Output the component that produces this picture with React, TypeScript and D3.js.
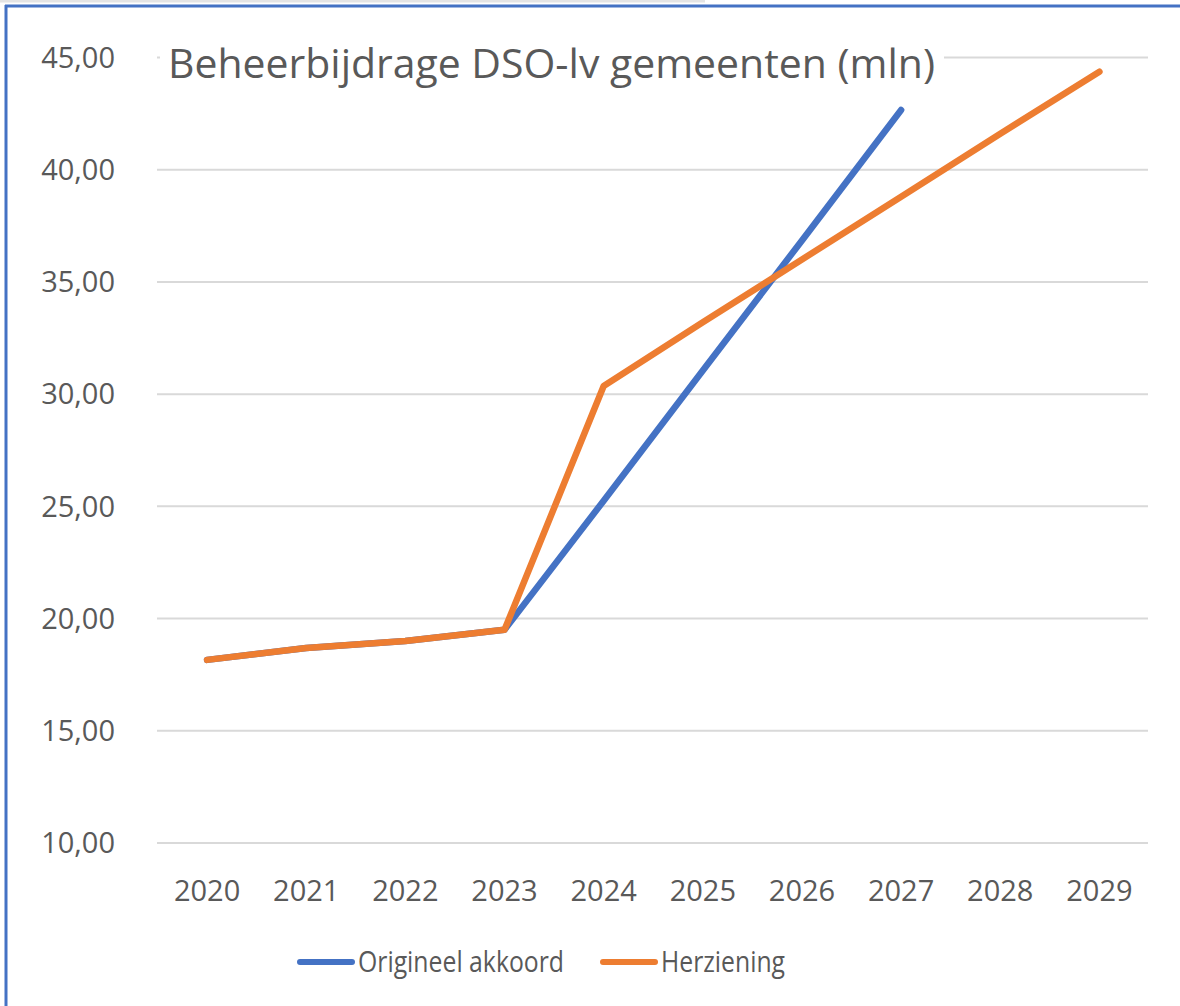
import React, {useEffect, useRef} from "react";
import * as d3 from "d3";

const years = ["2020", "2021", "2022", "2023", "2024", "2025", "2026", "2027", "2028", "2029"];
const origineel = [18.16, 18.69, 19.0, 19.5, 25.25, 31.05, 36.85, 42.66];
const herziening = [18.16, 18.69, 19.0, 19.5, 30.36, 33.2, 36.0, 38.8, 41.6, 44.37];
const yTicks = [10, 15, 20, 25, 30, 35, 40, 45];
const title = "Beheerbijdrage DSO-lv gemeenten (mln)";
const seriesNames = ["Origineel akkoord", "Herziening"];

const BLUE = "#4472C4";
const ORANGE = "#ED7D31";
const TEXT = "#595959";
const FONT = "'Open Sans', sans-serif";

export default function App() {
    const ref = useRef<SVGSVGElement>(null);

    useEffect(() => {
        const chartSize = {width: 1180, height: 1006};
        const svg = d3.select(ref.current);
        svg.selectAll("*").remove();

        svg.append("rect").attr("width", chartSize.width).attr("height", chartSize.height).attr("fill", "#fff");

        // frame bits visible in the screenshot
        svg.append("rect").attr("x", 0).attr("y", 0).attr("width", 705).attr("height", 2.5).attr("fill", "#e4e4e4");
        svg.append("line").attr("x1", 5).attr("x2", chartSize.width).attr("y1", 6).attr("y2", 6)
            .attr("stroke", BLUE).attr("stroke-width", 3);
        svg.append("line").attr("x1", 6).attr("x2", 6).attr("y1", 5).attr("y2", chartSize.height)
            .attr("stroke", BLUE).attr("stroke-width", 3);

        const x = d3.scaleBand().domain(years).range([157.5, 1149]);
        const y = d3.scaleLinear().domain([10, 45]).range([843, 57.5]);
        const cx = (i: number) => (x(years[i]) as number) + x.bandwidth() / 2;

        const g = svg.append("g");

        g.selectAll(".grid").data(yTicks).enter().append("line")
            .attr("class", "grid")
            .attr("x1", 157).attr("x2", 1148)
            .attr("y1", d => y(d)).attr("y2", d => y(d))
            .attr("stroke", "#d9d9d9").attr("stroke-width", 2);

        g.selectAll(".ylab").data(yTicks).enter().append("text")
            .attr("class", "ylab")
            .attr("x", 115).attr("y", d => y(d))
            .attr("dy", "0.35em")
            .attr("text-anchor", "end")
            .attr("font-family", FONT).attr("font-size", 29).attr("fill", TEXT)
            .text(d => d3.format(".2f")(d).replace(".", ","));

        g.selectAll(".xlab").data(years).enter().append("text")
            .attr("class", "xlab")
            .attr("x", (d, i) => cx(i)).attr("y", 901)
            .attr("text-anchor", "middle")
            .attr("font-family", FONT).attr("font-size", 29).attr("fill", TEXT)
            .text(d => d);

        const line = d3.line<number>().x((d, i) => cx(i)).y(d => y(d));

        g.append("path").datum(origineel).attr("d", line)
            .attr("fill", "none").attr("stroke", BLUE).attr("stroke-width", 6.5)
            .attr("stroke-linecap", "round").attr("stroke-linejoin", "round");
        g.append("path").datum(herziening).attr("d", line)
            .attr("fill", "none").attr("stroke", ORANGE).attr("stroke-width", 6.5)
            .attr("stroke-linecap", "round").attr("stroke-linejoin", "round");

        // title sits on a white box that hides the top gridline
        g.append("rect").attr("x", 160).attr("y", 30).attr("width", 784).attr("height", 60).attr("fill", "#fff");
        g.append("text")
            .attr("x", 168).attr("y", 78)
            .attr("font-family", FONT).attr("font-size", 40).attr("fill", TEXT)
            .attr("textLength", 767).attr("lengthAdjust", "spacingAndGlyphs")
            .text(title);

        const legend = [
            {name: seriesNames[0], color: BLUE, x: 300, w: 206},
            {name: seriesNames[1], color: ORANGE, x: 603, w: 124},
        ];
        const lg = g.selectAll(".legend").data(legend).enter().append("g").attr("class", "legend");
        lg.append("line")
            .attr("x1", d => d.x).attr("x2", d => d.x + 52)
            .attr("y1", 962).attr("y2", 962)
            .attr("stroke", d => d.color).attr("stroke-width", 6).attr("stroke-linecap", "round");
        lg.append("text")
            .attr("x", d => d.x + 58).attr("y", 962).attr("dy", "0.35em")
            .attr("font-family", FONT).attr("font-size", 29).attr("fill", TEXT)
            .attr("textLength", d => d.w).attr("lengthAdjust", "spacingAndGlyphs")
            .text(d => d.name);
    }, []);

    return <svg ref={ref} width={1180} height={1006}
                style={{position: "absolute", left: 0, top: 0, display: "block"}}/>;
}
